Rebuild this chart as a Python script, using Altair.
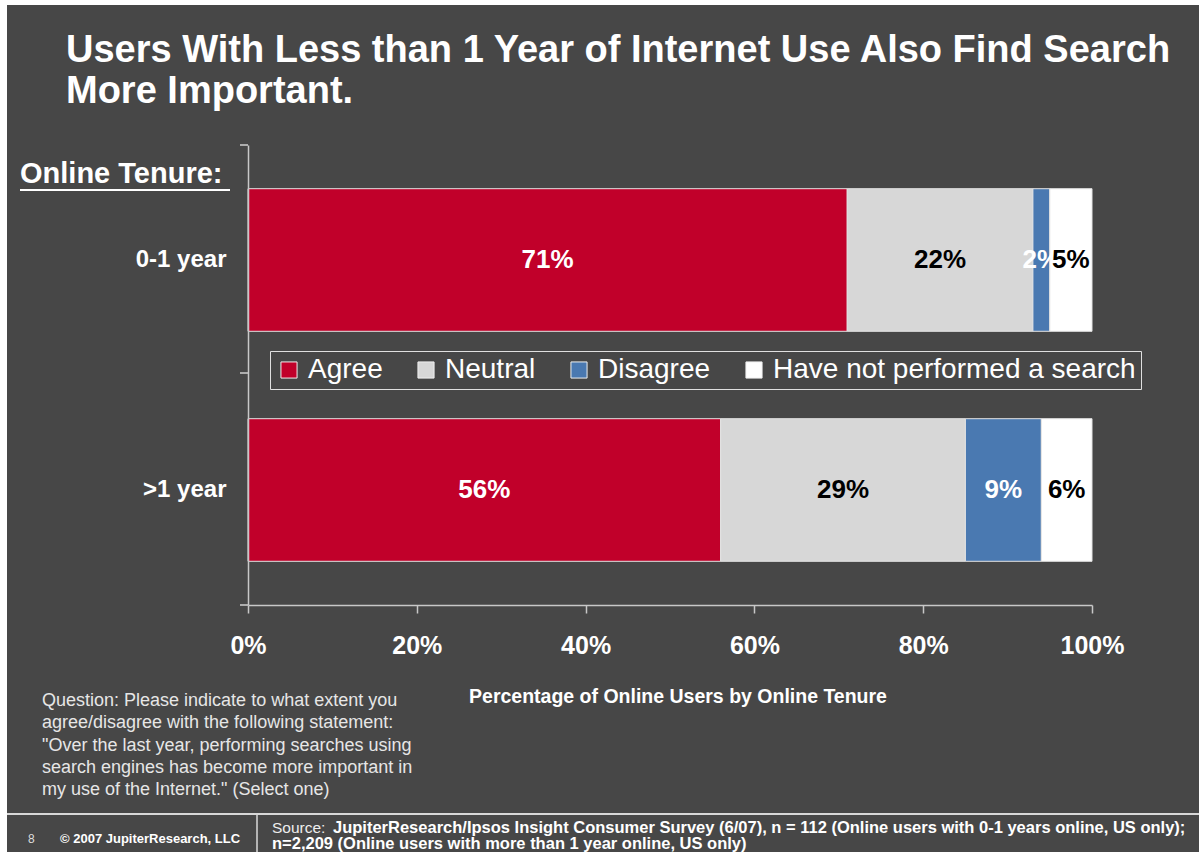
import altair as alt
import pandas as pd

tenure = ["0-1 year", ">1 year"]
categories = ["Agree", "Neutral", "Disagree", "Have not performed a search"]
agree = [71, 56]
neutral = [22, 29]
disagree = [2, 9]
have_not = [5, 6]
colors = ["#C1002A", "#D7D7D7", "#4A79B1", "#FFFFFF"]
label_colors = ["white", "black", "white", "black"]
x_ticks = [0, 20, 40, 60, 80, 100]

title_lines = ["Users With Less than 1 Year of Internet Use Also Find Search",
               "More Important."]
question_lines = ["Question:  Please indicate to what extent you",
                  "agree/disagree with the following statement:",
                  "\"Over the last year, performing searches using",
                  "search engines has become more important in",
                  "my use of the Internet.\" (Select one)"]
x_title = "Percentage of Online Users by Online Tenure"
source1 = "JupiterResearch/Ipsos Insight Consumer Survey (6/07), n =  112 (Online users with 0-1 years online, US only);"
source2 = "n=2,209 (Online users with more than 1 year online, US only)"

BG = "#474747"
FONT = "Liberation Sans"

series = [agree, neutral, disagree, have_not]
rows = []
for ci, (cat, vals) in enumerate(zip(categories, series)):
    for ti, t in enumerate(tenure):
        rows.append({"tenure": t, "category": cat, "value": vals[ti],
                     "order": ci, "lcolor": label_colors[ci]})
df = pd.DataFrame(rows)
one = pd.DataFrame({"k": [0]})

base = alt.Chart(df).transform_stack(
    stack="value", groupby=["tenure"], as_=["v0", "v1"],
    sort=[alt.SortField("order", order="ascending")]
)

yenc = alt.Y("tenure:N", sort=tenure,
             scale=alt.Scale(paddingInner=0.38, paddingOuter=0.19),
             axis=alt.Axis(title=None, ticks=False, domain=True, domainColor="#c8c8c8",
                           domainWidth=1.5, labelFontSize=24, labelFont=FONT,
                           labelFontWeight="bold", labelColor="white", labelPadding=22,
                           zindex=1))

bars = base.mark_bar(stroke="#e4e4e4", strokeWidth=1).encode(
    x=alt.X("v0:Q", scale=alt.Scale(domain=[0, 100], nice=False),
            axis=alt.Axis(values=x_ticks, labelExpr="datum.value + '%'", title=None,
                          grid=False, tickSize=8, tickColor="#c8c8c8", tickWidth=1.5,
                          domainColor="#c8c8c8", domainWidth=1.5,
                          labelFontSize=25, labelFont=FONT, labelFontWeight="bold",
                          labelColor="white", labelPadding=20, labelFlush=False,
                          zindex=1)),
    x2="v1:Q",
    y=yenc,
    color=alt.Color("category:N", sort=categories,
                    scale=alt.Scale(domain=categories, range=colors),
                    legend=alt.Legend(title=None, orient="none", legendX=22, legendY=206,
                                      direction="horizontal", fillColor=BG,
                                      strokeColor="#e0e0e0", padding=5,
                                      symbolType="square", symbolSize=260,
                                      symbolStrokeColor="#f0f0f0", symbolStrokeWidth=1,
                                      symbolOpacity=1,
                                      labelFontSize=28, labelFont=FONT, labelColor="white",
                                      labelOffset=5, columnPadding=29, labelLimit=600)),
    order=alt.Order("order:Q"),
)

labels = base.transform_calculate(
    mid="(datum.v0 + datum.v1) / 2", lab="datum.value + '%'"
).mark_text(fontSize=26, fontWeight="bold", font=FONT, baseline="middle").encode(
    x=alt.X("mid:Q"),
    y=alt.Y("tenure:N", sort=tenure),
    text="lab:N",
    color=alt.Color("lcolor:N", scale=None),
)


def txt(s, x, y, size, weight="normal", align="left", color="white", font=FONT,
        line_height=None):
    kw = dict(text=s, align=align, baseline="alphabetic", fontSize=size,
              fontWeight=weight, color=color, font=font)
    if line_height is not None:
        kw["lineHeight"] = line_height
    return alt.Chart(one).mark_text(**kw).encode(x=alt.value(x), y=alt.value(y))


def line(x, x2, y, y2, color="#cfcfcf", width=1.5):
    return alt.Chart(one).mark_rule(color=color, strokeWidth=width).encode(
        x=alt.value(x), x2=alt.value(x2), y=alt.value(y), y2=alt.value(y2))


bg = alt.Chart(one).mark_rect(color=BG).encode(
    x=alt.value(-241), x2=alt.value(960), y=alt.value(-140), y2=alt.value(720))

layers = [
    bg,
    bars,
    labels,
    txt(title_lines, -182, -83, 38, "bold", line_height=41),
    txt("Online Tenure:", -228, 38, 29, "bold"),
    line(-228, -18, 45, 45, color="white", width=2),
    line(-8, 0, 0, 0),
    line(-8, 0, 228, 228),
    line(-8, 0, 460, 460),
    txt(question_lines, -206, 561, 18, color="#e6e6e6", line_height=22.3),
    txt(x_title, 430, 558, 19.5, "bold", align="center"),
    line(-241, 960, 669, 669, color="#d8d8d8", width=2),
    line(9, 9, 669, 720, color="#d8d8d8", width=1.5),
    txt("8", -220, 698, 12, color="#dddddd"),
    txt("\u00a9 2007 JupiterResearch, LLC", -188, 698, 13, "bold"),
    txt("Source:", 24, 688, 15.5, color="#eeeeee"),
    txt(source1, 85, 688, 16.5, "bold"),
    txt(source2, 24, 704, 16.5, "bold"),
]

chart = alt.layer(*layers).properties(
    width=844, height=460,
    padding={"left": 248, "top": 145, "right": 107, "bottom": 247},
    autosize=alt.AutoSizeParams(type="none"),
    background="white",
).configure_view(stroke=None)

chart.save("out.html", embed_options={"renderer": "svg", "actions": False})
